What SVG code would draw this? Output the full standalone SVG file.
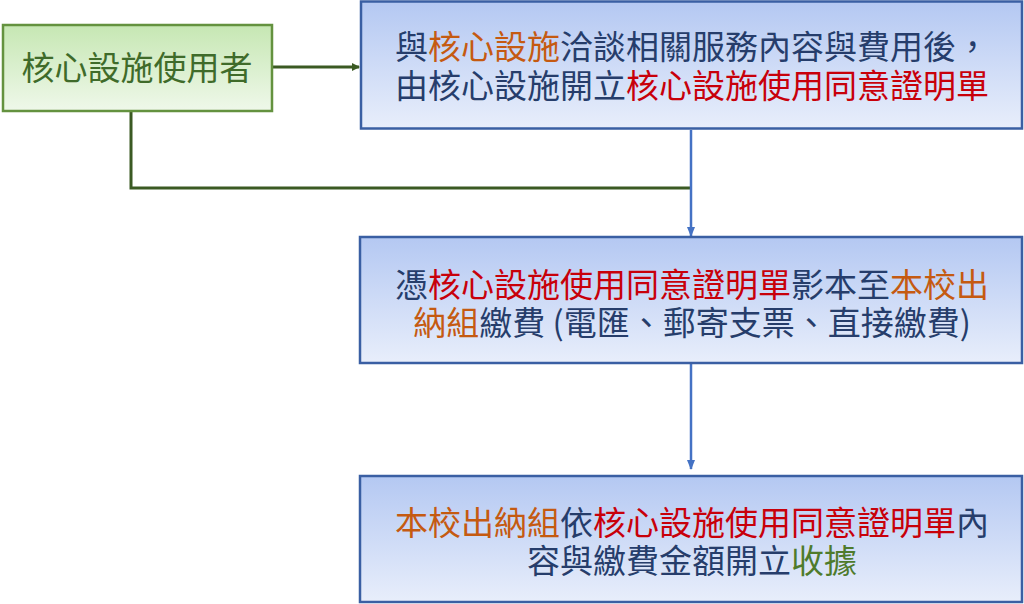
<svg xmlns="http://www.w3.org/2000/svg" width="1024" height="604" viewBox="0 0 1024 604">
<defs>
<linearGradient id="gBlue" x1="0" y1="0" x2="0" y2="1">
<stop offset="0" stop-color="#b4c8f2"/>
<stop offset="1" stop-color="#e8eefb"/>
</linearGradient>
<linearGradient id="gGreen" x1="0" y1="0" x2="0" y2="1">
<stop offset="0" stop-color="#c6e7b3"/>
<stop offset="1" stop-color="#eff8ea"/>
</linearGradient>
<marker id="aGreen" markerWidth="8" markerHeight="8" refX="7" refY="4" orient="auto" markerUnits="userSpaceOnUse">
<path d="M0,0 L8,4 L0,8 Z" fill="#3b5a23"/>
</marker>
<marker id="aBlue" markerWidth="10" markerHeight="10" refX="9" refY="5" orient="auto" markerUnits="userSpaceOnUse">
<path d="M0,1 L10,5 L0,9 Z" fill="#4472c4"/>
</marker>
</defs>
<style>
.box{fill:url(#gBlue);stroke:#3a5fa3;stroke-width:2.5}
.gbox{fill:url(#gGreen);stroke:#64923f;stroke-width:2.5}
text{font-family:"Noto Sans CJK TC","Noto Sans CJK SC",sans-serif;font-size:33px;text-anchor:middle;fill:#263d6b}
.o{fill:#c55a11}
.r{fill:#c8000a}
.g{fill:#4f7b2c}
.gt{fill:#3f6b2a}
.gl{fill:none;stroke:#3b5a23;stroke-width:3}
.bl{fill:none;stroke:#4472c4;stroke-width:2.5}
</style>
<g id="connectors">
<path class="gl" d="M273,67 L359,67" marker-end="url(#aGreen)"/>
<path class="gl" d="M131,111 L131,188 L691,188"/>
<path class="bl" d="M691,130 L691,236" marker-end="url(#aBlue)"/>
<path class="bl" d="M691,364 L691,469" marker-end="url(#aBlue)"/>
</g>
<g id="user">
<rect class="gbox" x="3" y="25" width="269" height="86"/>
<text x="137" y="80" class="gt">核心設施使用者</text>
</g>
<g id="step1">
<rect class="box" x="361" y="1.5" width="661" height="127"/>
<text x="692" y="59">與<tspan class="o">核心設施</tspan>洽談相關服務內容與費用後，</text>
<text x="692" y="98">由核心設施開立<tspan class="r">核心設施使用同意證明單</tspan></text>
</g>
<g id="step2">
<rect class="box" x="360" y="237" width="662" height="126"/>
<text x="692" y="297">憑<tspan class="r">核心設施使用同意證明單</tspan>影本至<tspan class="o">本校出</tspan></text>
<text x="692" y="335"><tspan class="o">納組</tspan>繳費 (電匯、郵寄支票、直接繳費)</text>
</g>
<g id="step3">
<rect class="box" x="360" y="476" width="662" height="126"/>
<text x="692" y="535"><tspan class="o">本校出納組</tspan>依<tspan class="r">核心設施使用同意證明單</tspan>內</text>
<text x="692" y="573">容與繳費金額開立<tspan class="g">收據</tspan></text>
</g>
</svg>
